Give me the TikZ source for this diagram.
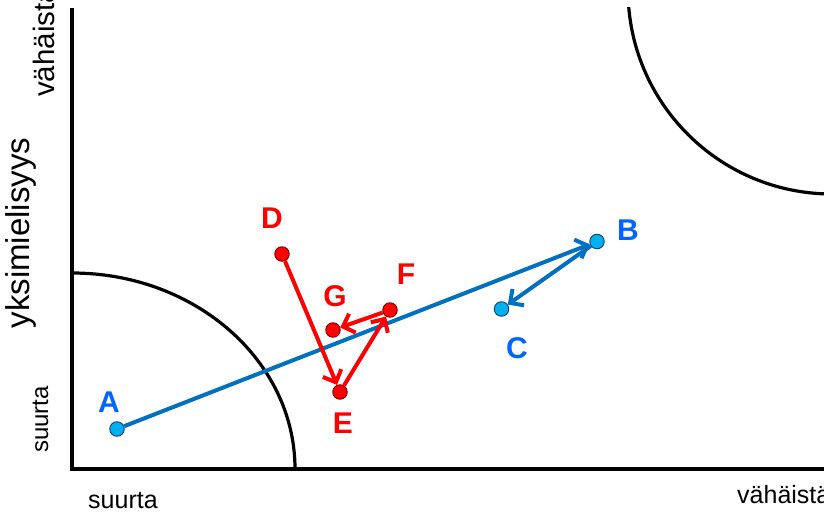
\documentclass[tikz,border=0pt]{standalone}
\usepackage{fontspec}
\setmainfont{Liberation Sans}
\usetikzlibrary{arrows.meta}
\definecolor{lineblue}{RGB}{0,112,192}
\definecolor{dotblue}{RGB}{0,176,240}
\definecolor{dotblueb}{RGB}{20,60,110}
\definecolor{labblue}{RGB}{0,102,255}
\definecolor{redc}{RGB}{255,0,0}
\definecolor{dotredb}{RGB}{120,0,0}
\begin{document}
\begin{tikzpicture}[x=1pt,y=-1pt,
  bdot/.style={circle,fill=dotblue,draw=dotblueb,line width=0.9pt,minimum size=14.5pt,inner sep=0pt},
  rdot/.style={circle,fill=redc,draw=dotredb,line width=0.9pt,minimum size=14.5pt,inner sep=0pt},
  blab/.style={font=\fontsize{30}{30}\selectfont\bfseries,text=labblue,inner sep=0pt},
  rlab/.style={font=\fontsize{30}{30}\selectfont\bfseries,text=redc,inner sep=0pt},
  barrow/.style={draw=lineblue,line width=4pt,-{Straight Barb[length=10pt,width=20pt]}},
  rarrow/.style={draw=redc,line width=4pt,-{Straight Barb[length=10pt,width=20pt]}},
  axisline/.style={line width=3.6pt},
  curveline/.style={line width=3.2pt},
  axlab/.style={font=\fontsize{25}{25}\selectfont,inner sep=0pt}]
\useasboundingbox (0,0) rectangle (824,516);
% axes
\draw[axisline] (72,8) -- (72,469) -- (830,469);
% curves
\draw[curveline] (295,469) arc[start angle=0,end angle=-90,x radius=223,y radius=196];
\begin{scope}
\clip (72,8) rectangle (830,469);
\draw[curveline] (628,-10) arc[start angle=180,end angle=90,radius=204];
\end{scope}
% axis texts
\node[axlab,anchor=base west] (sx) at (88,508) {suurta};
\node[axlab,anchor=base west] (vx) at (737,503) {vähäistä};
\node[axlab,font=\fontsize{29.5}{29.5}\selectfont,rotate=90,anchor=base west] (vy) at (54,97) {vähäistä};
\node[axlab,font=\fontsize{24}{24}\selectfont,rotate=90,anchor=base west] (sy) at (48,453) {suurta};
\node[axlab,font=\fontsize{33}{33}\selectfont,rotate=90,anchor=base] (ty) at (29,233) {yksimielisyys};
% points
\node[bdot] (A) at (117,429) {};
\node[bdot] (B) at (597,241.5) {};
\node[bdot] (C) at (501.5,309) {};
\node[rdot] (D) at (282,254) {};
\node[rdot] (E) at (340,392) {};
\node[rdot] (F) at (390,310) {};
\node[rdot] (G) at (333,330) {};
% connectors
\draw[barrow] (A) -- (B);
\draw[barrow] (B) -- (C);
\draw[rarrow] (D) -- (E);
\draw[rarrow] (E) -- (F);
\draw[rarrow] (F) -- (G);
% labels
\node[blab] (lA) at (109,402) {A};
\node[blab] (lB) at (628,230) {B};
\node[blab] (lC) at (517,348) {C};
\node[rlab] (lD) at (272,218) {D};
\node[rlab] (lE) at (343,423) {E};
\node[rlab] (lF) at (406,274) {F};
\node[rlab] (lG) at (335,296) {G};
\end{tikzpicture}
\end{document}
